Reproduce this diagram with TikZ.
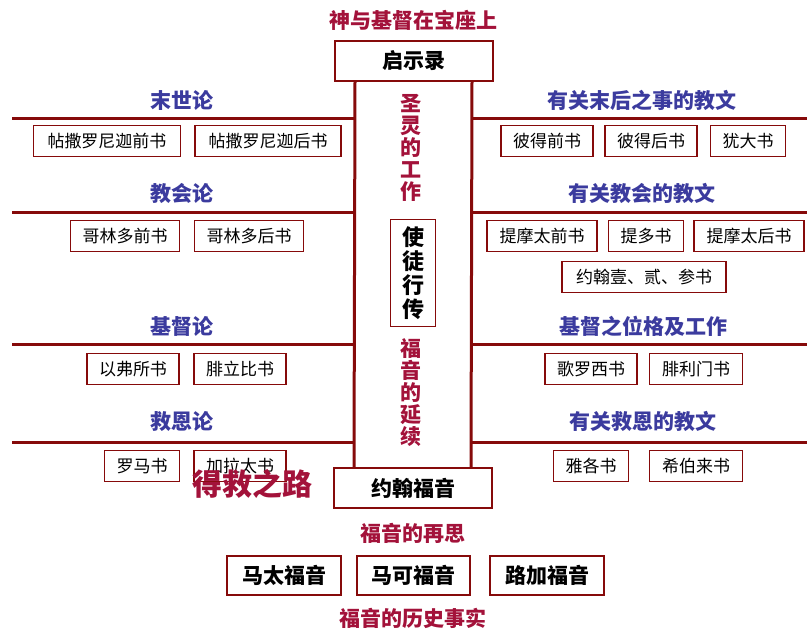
\documentclass[tikz,border=0pt]{standalone}
\usepackage{fontspec}
\setmainfont{Noto Sans CJK SC}
\usetikzlibrary{positioning}
\definecolor{linered}{HTML}{860A0A}
\definecolor{textred}{HTML}{A3123A}
\definecolor{headblue}{HTML}{3B3B9E}
\tikzset{
  book/.style={draw=linered, line width=1.5pt, fill=white, inner xsep=12pt, inner ysep=0pt, minimum height=31pt, font=\fontsize{17}{17}\selectfont},
  head/.style={text=headblue, font=\fontsize{21}{21}\selectfont\bfseries},
  note/.style={text=textred, font=\fontsize{21}{21}\selectfont\bfseries},
  rule/.style={draw=linered, line width=3pt},
  gospel/.style={draw=linered, line width=2pt, fill=white, font=\fontsize{21}{21}\selectfont\bfseries, minimum height=40pt}
}
\begin{document}
\begin{tikzpicture}[x=1pt, y=-1pt]
  \useasboundingbox (0,0) rectangle (807,633);
  \node[note] (title) at (413,20) {神与基督在宝座上};
  \node[gospel, minimum width=158pt] (rev) at (414,61) {启示录};
  \node[gospel, minimum width=158pt] (john) at (413,488) {约翰福音};
  \draw[rule] ([xshift=-59pt]rev.south) -- ([xshift=-59pt]john.north);
  \draw[rule] ([xshift=58pt]rev.south) -- ([xshift=58pt]john.north);
  \foreach \y in {118,212,344,442} {
    \draw[rule] (12,\y) -- (355,\y);
    \draw[rule] (472,\y) -- (807,\y);
  }
  % left side
  \node[head] (eschat) at (182,100) {末世论};
  \node[book, minimum width=147pt] (thes1) at (107,141) {帖撒罗尼迦前书};
  \node[book, minimum width=146pt] (thes2) at (268,141) {帖撒罗尼迦后书};
  \node[head] (church) at (182,193) {教会论};
  \node[book, minimum width=109pt] (cor1) at (125,236) {哥林多前书};
  \node[book, minimum width=109pt] (cor2) at (249,236) {哥林多后书};
  \node[head] (christ) at (182,326) {基督论};
  \node[book, minimum width=91pt] (eph) at (133,369) {以弗所书};
  \node[book, minimum width=91pt] (phil) at (240,369) {腓立比书};
  \node[head] (salv) at (182,421) {救恩论};
  \node[book, minimum width=73pt] (rom) at (142,466) {罗马书};
  \node[book, minimum width=91pt] (gal) at (240,466) {加拉太书};
  % right side
  \node[head] (lastdoc) at (642,100) {有关末后之事的教文};
  \node[book, minimum width=92pt] (pet1) at (547,141) {彼得前书};
  \node[book, minimum width=91pt] (pet2) at (651,141) {彼得后书};
  \node[book, minimum width=74pt] (jude) at (748,141) {犹大书};
  \node[head] (churchdoc) at (642,193) {有关教会的教文};
  \node[book, minimum width=110pt] (tim1) at (542,236) {提摩太前书};
  \node[book, minimum width=74pt] (titus) at (646,236) {提多书};
  \node[book, minimum width=110pt] (tim2) at (749,236) {提摩太后书};
  \node[book, minimum width=164pt] (jn123) at (644,277) {约翰壹、贰、参书};
  \node[head] (persondoc) at (643,326) {基督之位格及工作};
  \node[book, minimum width=91pt] (col) at (591,369) {歌罗西书};
  \node[book, minimum width=93pt] (phm) at (696,369) {腓利门书};
  \node[head] (salvdoc) at (643,421) {有关救恩的教文};
  \node[book, minimum width=74pt] (jas) at (591,466) {雅各书};
  \node[book, minimum width=93pt] (heb) at (696,466) {希伯来书};
  % column
  \node[note, align=center, font=\fontsize{21}{22}\selectfont\bfseries] (spirit) at (411,148) {圣\\灵\\的\\工\\作};
  \node[draw=linered, line width=1.2pt, fill=white, align=center, minimum width=45pt, minimum height=107pt, font=\fontsize{22}{24}\selectfont\bfseries] (acts) at (413,273) {使\\徒\\行\\传};
  \node[note, align=center, font=\fontsize{21}{22}\selectfont\bfseries] (cont) at (411,393) {福\\音\\的\\延\\续};
  \node[note, font=\fontsize{30}{30}\selectfont\bfseries] (way) at (252,484) {得救之路};
  % bottom
  \node[note] (rethink) at (413,533) {福音的再思};
  \node[gospel, minimum width=114pt, minimum height=39pt] (matt) at (284,575) {马太福音};
  \node[gospel, minimum width=113pt, minimum height=39pt] (mark) at (413,575) {马可福音};
  \node[gospel, minimum width=114pt, minimum height=39pt] (luke) at (547,575) {路加福音};
  \node[note] (facts) at (413,618) {福音的历史事实};
\end{tikzpicture}
\end{document}
